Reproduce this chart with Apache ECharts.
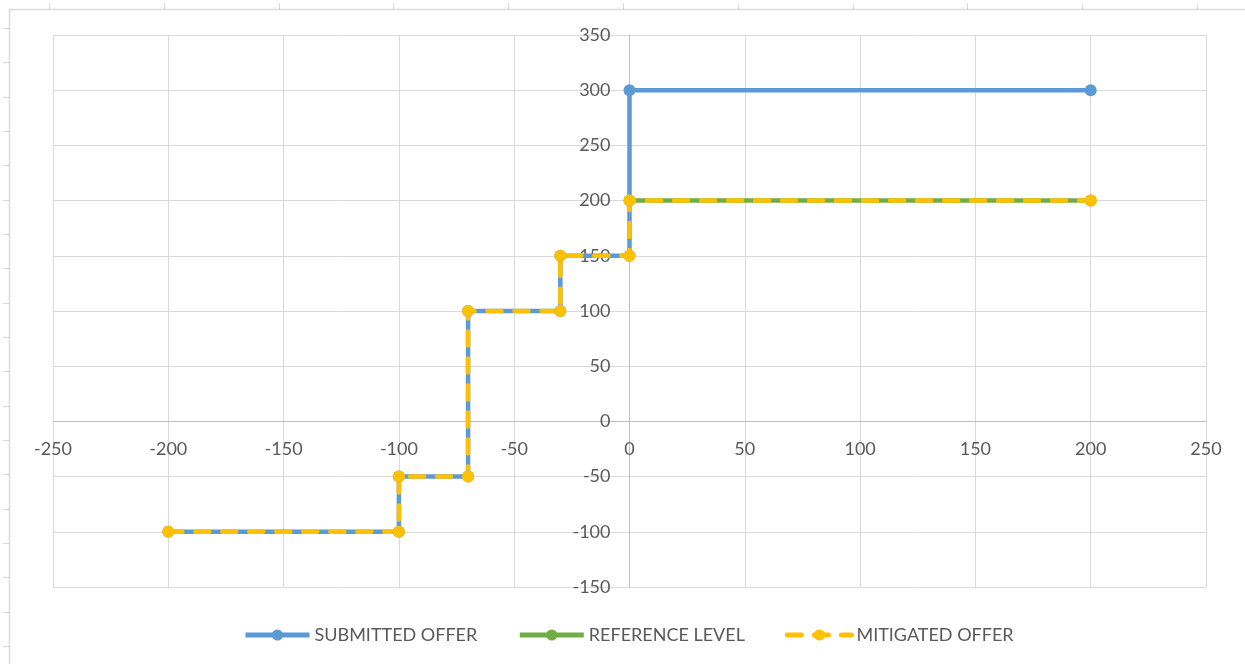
<!DOCTYPE html>
<html>
<head>
<meta charset="utf-8">
<script src="https://cdn.jsdelivr.net/npm/echarts@6/dist/echarts.min.js"></script>
<style>html,body{margin:0;padding:0;background:#fff;}#c{width:1245px;height:664px;}</style>
</head>
<body>
<div id="c"></div>
<script>
// ---- data ----
var seriesNames = ['SUBMITTED OFFER', 'REFERENCE LEVEL', 'MITIGATED OFFER'];
var submittedX = [-200, -100, -100, -70, -70, -30, -30, 0, 0, 200];
var submittedY = [-100, -100, -50, -50, 100, 100, 150, 150, 300, 300];
var referenceX = [0, 200];
var referenceY = [200, 200];
var mitigatedX = [-200, -100, -100, -70, -70, -30, -30, 0, 0, 200];
var mitigatedY = [-100, -100, -50, -50, 100, 100, 150, 150, 200, 200];
var xTicks = [-250, -200, -150, -100, -50, 0, 50, 100, 150, 200, 250];
var yTicks = [-150, -100, -50, 0, 50, 100, 150, 200, 250, 300, 350];

function pairs(xs, ys) { return xs.map(function (x, i) { return [x, ys[i]]; }); }

var FONT = 'Lato';
var TXT = '#595959';
var W = 1245, H = 664;
var G = { left: 53, right: 39, top: 35, bottom: 77 };
var xMin = xTicks[0], xMax = xTicks[xTicks.length - 1];
var yMin = yTicks[0], yMax = yTicks[yTicks.length - 1];
var plotW = W - G.left - G.right, plotH = H - G.top - G.bottom;
// place axes through the origin (cross at zero)
var yAxisOffset = -plotW * (0 - xMin) / (xMax - xMin);
var xAxisOffset = -plotH * (0 - yMin) / (yMax - yMin);

// decorative sheet frame + ruler ticks
var graphics = [{
  type: 'polyline', silent: true,
  shape: { points: [[9.5, 664], [9.5, 9.5], [1245, 9.5]] },
  style: { stroke: '#d9d9d9', lineWidth: 1.5, fill: null }
}];
for (var i = 0; i <= 10; i++) {
  var tx = Math.round(49 + i * 114.8) + 0.5;
  graphics.push({ type: 'line', silent: true, shape: { x1: tx, y1: 3, x2: tx, y2: 9 }, style: { stroke: '#d9d9d9', lineWidth: 1 } });
}
for (var j = 0; j <= 18; j++) {
  var ty = Math.round(28 + j * 34.33) + 0.5;
  graphics.push({ type: 'line', silent: true, shape: { x1: 3, y1: ty, x2: 9, y2: ty }, style: { stroke: '#d9d9d9', lineWidth: 1 } });
}

var chart = echarts.init(document.getElementById('c'), null, { renderer: 'canvas' });
chart.setOption({
  animation: false,
  backgroundColor: '#ffffff',
  graphic: graphics,
  grid: { left: G.left, right: G.right, top: G.top, bottom: G.bottom, containLabel: false },
  xAxis: {
    type: 'value', min: xMin, max: xMax, interval: 50,
    position: 'bottom', offset: xAxisOffset,
    axisLine: { onZero: false, lineStyle: { color: '#bfbfbf', width: 1 } },
    axisTick: { show: false },
    axisLabel: { color: TXT, fontFamily: FONT, fontSize: 18, margin: 19, showMinLabel: true, showMaxLabel: true },
    splitLine: { show: true, lineStyle: { color: '#d9d9d9', width: 1 } }
  },
  yAxis: {
    type: 'value', min: yMin, max: yMax, interval: 50,
    position: 'left', offset: yAxisOffset,
    axisLine: { show: true, onZero: false, lineStyle: { color: '#bfbfbf', width: 1 } },
    axisTick: { show: false },
    axisLabel: { color: TXT, fontFamily: FONT, fontSize: 18, margin: 19, showMinLabel: true, showMaxLabel: true },
    splitLine: { show: true, lineStyle: { color: '#d9d9d9', width: 1 } }
  },
  legend: {
    bottom: 15, left: 238,
    itemWidth: 64, itemHeight: 14, itemGap: 40,
    lineStyle: { width: 5 },
    textStyle: { color: TXT, fontFamily: FONT, fontSize: 18 },
    data: seriesNames
  },
  series: [
    {
      name: seriesNames[0], type: 'line', data: pairs(submittedX, submittedY),
      symbol: 'circle', symbolSize: 12, showSymbol: true,
      itemStyle: { color: '#5B9BD5' },
      lineStyle: { color: '#5B9BD5', width: 4.5 }
    },
    {
      name: seriesNames[1], type: 'line', data: pairs(referenceX, referenceY),
      symbol: 'circle', symbolSize: 12,
      itemStyle: { color: '#70AD47' },
      lineStyle: { color: '#70AD47', width: 4.5 }
    },
    {
      name: seriesNames[2], type: 'line', data: pairs(mitigatedX, mitigatedY),
      symbol: 'circle', symbolSize: 12,
      itemStyle: { color: '#FFC000' },
      lineStyle: { color: '#FFC000', width: 4.5, type: [14, 13], cap: 'round' }
    }
  ]
});
</script>
</body>
</html>
